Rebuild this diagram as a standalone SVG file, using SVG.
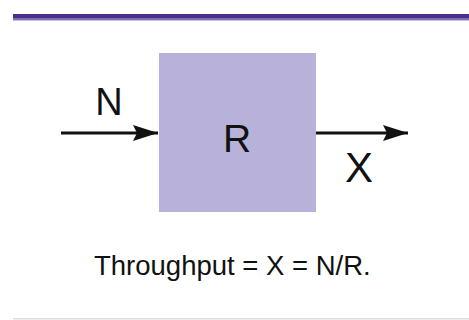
<svg xmlns="http://www.w3.org/2000/svg" width="469" height="320" viewBox="0 0 469 320">
  <style>
    .lbl { font-family: "Liberation Sans", Arial, sans-serif; fill: #111; }
    .flow { stroke: #111; stroke-width: 3; fill: none; }
  </style>
  <defs>
    <marker id="head" markerUnits="userSpaceOnUse" markerWidth="26" markerHeight="18" refX="25" refY="9" orient="auto">
      <path d="M0,1 L25,9 L0,17 L4,9 Z" fill="#111"/>
    </marker>
  </defs>
  <rect width="469" height="320" fill="#fff"/>
  <!-- header rule -->
  <rect x="13" y="14" width="456" height="4" fill="#4a2e8c"/>
  <rect x="13" y="18" width="456" height="2" fill="#7d6db5"/>
  <rect x="13" y="20" width="456" height="1" fill="#c9c2e2"/>
  <!-- footer rule -->
  <rect x="13" y="318" width="456" height="1.5" fill="#dddddd"/>

  <g id="server">
    <rect x="159" y="53" width="157" height="159" fill="#b8b1da"/>
    <text class="lbl" x="237" y="152" font-size="39" text-anchor="middle">R</text>
  </g>
  <g id="connectors">
    <line class="flow" x1="61" y1="133" x2="158" y2="133" marker-end="url(#head)"/>
    <line class="flow" x1="316" y1="133" x2="408" y2="133" marker-end="url(#head)"/>
  </g>
  <g id="labels">
    <text class="lbl" x="109" y="115" font-size="38" text-anchor="middle">N</text>
    <text class="lbl" x="359" y="182" font-size="42" text-anchor="middle">X</text>
    <text class="lbl" x="94" y="275" font-size="27.5">Throughput = X = N/R.</text>
  </g>
</svg>
